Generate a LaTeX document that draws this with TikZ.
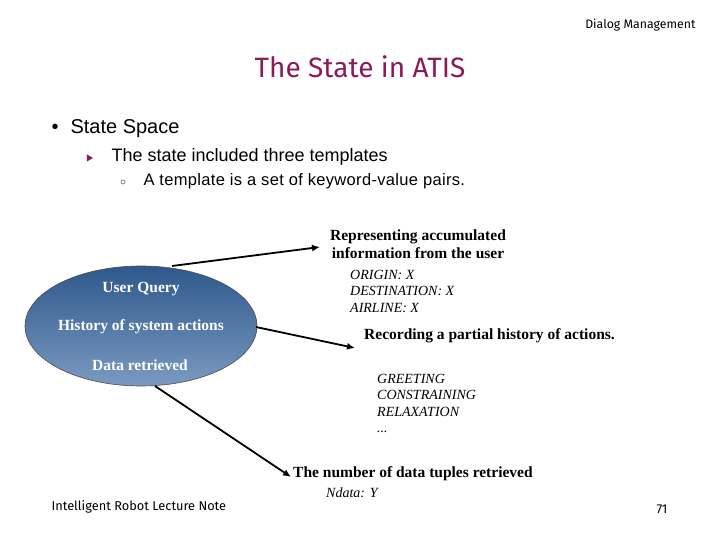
\documentclass[tikz,border=0pt]{standalone}
\usepackage{fontspec}
\setmainfont{Liberation Serif}
\setsansfont{Liberation Sans}
\newfontfamily\titlefont{Fira Sans}
\usetikzlibrary{arrows.meta,shapes.geometric}
\definecolor{titlec}{HTML}{8B1A5A}
\tikzset{
 arr/.style={-{Latex[length=8pt,width=7pt]}, line width=1.8pt},
 ser/.style={font=\fontsize{15.5}{18}\selectfont\bfseries, align=left, inner sep=0pt},
 ital/.style={font=\fontsize{14}{16.5}\selectfont\itshape, align=left, inner sep=0pt, anchor=north west},
 inell/.style={font=\fontsize{15.5}{18}\selectfont\bfseries, text=white, inner sep=0pt}
}
\begin{document}
\begin{tikzpicture}[x=1pt,y=-1pt]
\useasboundingbox (0,0) rectangle (720,540);
\node[font=\titlefont\fontsize{12.3}{14}\selectfont, anchor=east] (hdr) at (699,25) {Dialog Management};
\node[font=\titlefont\fontsize{28}{32}\selectfont, text=titlec] (title) at (360,67) {The State in ATIS};
\node[font=\sffamily\fontsize{20}{23}\selectfont, anchor=west] (b1) at (48,129) {•\hspace{12pt}State Space};
\node[isosceles triangle, fill=titlec, inner sep=0pt, minimum width=7pt, minimum height=6pt, isosceles triangle stretches] (t2) at (89,158) {};
\node[font=\sffamily\fontsize{18}{21}\selectfont, anchor=west] (b2) at (108,157) {The state included three templates};
\node[font=\sffamily\fontsize{16.5}{19}\selectfont\addfontfeature{LetterSpace=2}, anchor=west] (b3) at (140,181) {A template is a set of keyword-value pairs.};
\node[draw=black!60, circle, inner sep=0pt, minimum size=4pt, line width=0.6pt] (b3b) at (123,182) {};
\node[draw=black!70, line width=0.6pt, ellipse, minimum width=232pt, minimum height=120pt, inner sep=0pt,
  top color={rgb,255:red,46;green,88;blue,140}, bottom color={rgb,255:red,122;green,154;blue,192}] (ell) at (141,326) {};
\node[inell] (uq) at (141,289) {User Query};
\node[inell] (hs) at (141,327) {History of system actions};
\node[inell] (dr) at (140,365) {Data retrieved};
\node[ser, align=center] (rep) at (418,244) {Representing accumulated\\information from the user};
\node[ital] (orig) at (350,270) {ORIGIN: X\\DESTINATION: X\\AIRLINE: X};
\node[ser, anchor=west] (rec) at (364,336) {Recording a partial history of actions.};
\node[ital] (greet) at (377,374) {GREETING\\CONSTRAINING\\RELAXATION\\...};
\node[ser, anchor=west] (num) at (293,474) {The number of data tuples retrieved};
\node[ital] (nd) at (326,488) {Ndata: Y};
\coordinate (s1) at (172,266); \coordinate (e1) at (320,247);
\coordinate (s2) at (256,327); \coordinate (e2) at (355,348);
\coordinate (s3) at (155,386); \coordinate (e3) at (291,477);
\draw[arr] (s1) -- (e1);
\draw[arr] (s2) -- (e2);
\draw[arr] (s3) -- (e3);
\node[font=\titlefont\fontsize{12.8}{14}\selectfont, anchor=west] (foot) at (48,507) {Intelligent Robot Lecture Note};
\node[font=\titlefont\fontsize{12.8}{14}\selectfont] (pg) at (662,509) {71};
\end{tikzpicture}
\end{document}
